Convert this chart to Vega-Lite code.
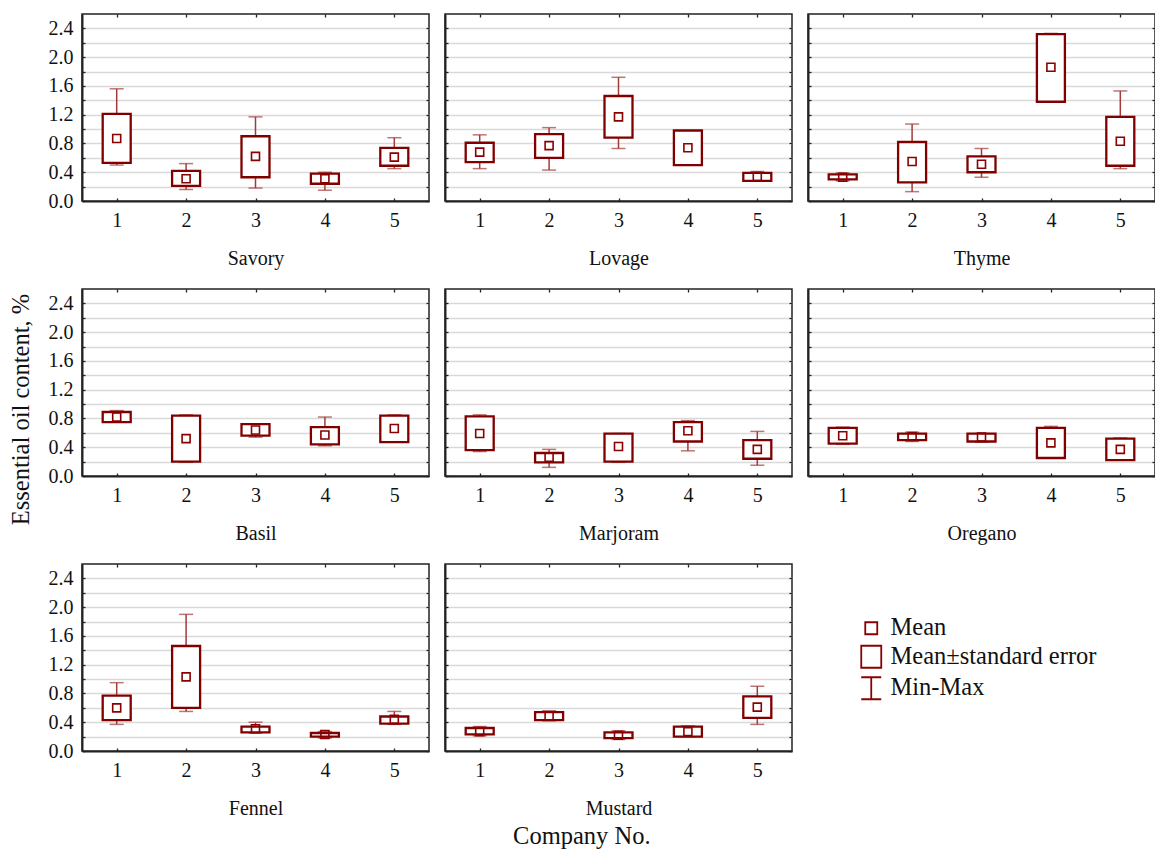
{
  "$schema": "https://vega.github.io/schema/vega-lite/v6.json",
  "padding": {"left": 7, "top": 12, "right": 0, "bottom": 2},
  "background": "#ffffff",
  "datasets": {
    "box": [
      {"herb": "Savory", "company": 1, "min": 0.50, "selo": 0.53, "mean": 0.87, "sehi": 1.21, "max": 1.56},
      {"herb": "Savory", "company": 2, "min": 0.16, "selo": 0.21, "mean": 0.31, "sehi": 0.42, "max": 0.52},
      {"herb": "Savory", "company": 3, "min": 0.18, "selo": 0.33, "mean": 0.62, "sehi": 0.90, "max": 1.17},
      {"herb": "Savory", "company": 4, "min": 0.15, "selo": 0.24, "mean": 0.31, "sehi": 0.38, "max": 0.40},
      {"herb": "Savory", "company": 5, "min": 0.45, "selo": 0.49, "mean": 0.61, "sehi": 0.74, "max": 0.88},
      {"herb": "Lovage", "company": 1, "min": 0.45, "selo": 0.54, "mean": 0.68, "sehi": 0.81, "max": 0.92},
      {"herb": "Lovage", "company": 2, "min": 0.43, "selo": 0.60, "mean": 0.77, "sehi": 0.93, "max": 1.02},
      {"herb": "Lovage", "company": 3, "min": 0.73, "selo": 0.88, "mean": 1.17, "sehi": 1.46, "max": 1.72},
      {"herb": "Lovage", "company": 4, "min": 0.51, "selo": 0.50, "mean": 0.74, "sehi": 0.98, "max": 0.97},
      {"herb": "Lovage", "company": 5, "min": 0.28, "selo": 0.28, "mean": 0.34, "sehi": 0.39, "max": 0.41},
      {"herb": "Thyme", "company": 1, "min": 0.28, "selo": 0.30, "mean": 0.33, "sehi": 0.37, "max": 0.39},
      {"herb": "Thyme", "company": 2, "min": 0.13, "selo": 0.26, "mean": 0.55, "sehi": 0.82, "max": 1.07},
      {"herb": "Thyme", "company": 3, "min": 0.33, "selo": 0.40, "mean": 0.51, "sehi": 0.62, "max": 0.73},
      {"herb": "Thyme", "company": 4, "min": 1.38, "selo": 1.38, "mean": 1.86, "sehi": 2.32, "max": 2.33},
      {"herb": "Thyme", "company": 5, "min": 0.45, "selo": 0.49, "mean": 0.83, "sehi": 1.17, "max": 1.53},
      {"herb": "Basil", "company": 1, "min": 0.75, "selo": 0.75, "mean": 0.82, "sehi": 0.89, "max": 0.91},
      {"herb": "Basil", "company": 2, "min": 0.19, "selo": 0.20, "mean": 0.52, "sehi": 0.84, "max": 0.85},
      {"herb": "Basil", "company": 3, "min": 0.54, "selo": 0.56, "mean": 0.64, "sehi": 0.72, "max": 0.72},
      {"herb": "Basil", "company": 4, "min": 0.42, "selo": 0.44, "mean": 0.57, "sehi": 0.68, "max": 0.82},
      {"herb": "Basil", "company": 5, "min": 0.47, "selo": 0.47, "mean": 0.66, "sehi": 0.84, "max": 0.85},
      {"herb": "Marjoram", "company": 1, "min": 0.34, "selo": 0.36, "mean": 0.59, "sehi": 0.83, "max": 0.85},
      {"herb": "Marjoram", "company": 2, "min": 0.12, "selo": 0.19, "mean": 0.26, "sehi": 0.32, "max": 0.37},
      {"herb": "Marjoram", "company": 3, "min": 0.19, "selo": 0.20, "mean": 0.41, "sehi": 0.59, "max": 0.59},
      {"herb": "Marjoram", "company": 4, "min": 0.35, "selo": 0.48, "mean": 0.63, "sehi": 0.75, "max": 0.77},
      {"herb": "Marjoram", "company": 5, "min": 0.15, "selo": 0.24, "mean": 0.37, "sehi": 0.50, "max": 0.62},
      {"herb": "Oregano", "company": 1, "min": 0.44, "selo": 0.45, "mean": 0.56, "sehi": 0.67, "max": 0.68},
      {"herb": "Oregano", "company": 2, "min": 0.48, "selo": 0.50, "mean": 0.55, "sehi": 0.59, "max": 0.61},
      {"herb": "Oregano", "company": 3, "min": 0.47, "selo": 0.48, "mean": 0.54, "sehi": 0.59, "max": 0.59},
      {"herb": "Oregano", "company": 4, "min": 0.25, "selo": 0.25, "mean": 0.46, "sehi": 0.67, "max": 0.69},
      {"herb": "Oregano", "company": 5, "min": 0.22, "selo": 0.22, "mean": 0.37, "sehi": 0.52, "max": 0.53},
      {"herb": "Fennel", "company": 1, "min": 0.37, "selo": 0.43, "mean": 0.60, "sehi": 0.77, "max": 0.95},
      {"herb": "Fennel", "company": 2, "min": 0.55, "selo": 0.60, "mean": 1.03, "sehi": 1.46, "max": 1.90},
      {"herb": "Fennel", "company": 3, "min": 0.25, "selo": 0.26, "mean": 0.31, "sehi": 0.34, "max": 0.40},
      {"herb": "Fennel", "company": 4, "min": 0.18, "selo": 0.20, "mean": 0.23, "sehi": 0.25, "max": 0.27},
      {"herb": "Fennel", "company": 5, "min": 0.37, "selo": 0.38, "mean": 0.44, "sehi": 0.48, "max": 0.55},
      {"herb": "Mustard", "company": 1, "min": 0.21, "selo": 0.23, "mean": 0.27, "sehi": 0.32, "max": 0.34},
      {"herb": "Mustard", "company": 2, "min": 0.42, "selo": 0.43, "mean": 0.49, "sehi": 0.54, "max": 0.56},
      {"herb": "Mustard", "company": 3, "min": 0.16, "selo": 0.18, "mean": 0.22, "sehi": 0.26, "max": 0.28},
      {"herb": "Mustard", "company": 4, "min": 0.20, "selo": 0.20, "mean": 0.27, "sehi": 0.34, "max": 0.35},
      {"herb": "Mustard", "company": 5, "min": 0.37, "selo": 0.46, "mean": 0.61, "sehi": 0.76, "max": 0.90}
    ],
    "key": [
      {"stat": "Mean"},
      {"stat": "Mean±standard error"},
      {"stat": "Min-Max"}
    ]
  },
  "data": {"name": "box"},
  "title": {"text": "Company No.", "orient": "bottom", "anchor": "middle", "font": "Times New Roman, Liberation Serif, serif", "fontSize": 24.5, "fontWeight": "normal", "color": "#111111", "offset": 6},
  "columns": 3,
  "spacing": {"row": 18, "column": 12},
  "concat": [
    {
      "width": 347, "height": 187,
      "transform": [{"filter": "datum.herb === 'Savory'"}],
      "layer": [
        {"mark": {"type": "rule", "color": "#a33a3a", "strokeWidth": 1.5},
         "encoding": {
           "x": {"field": "company", "type": "ordinal", "scale": {"type": "point", "padding": 0.5}, "axis": {"orient": "bottom", "title": "Savory", "labelAngle": 0, "tickSize": -3, "labelPadding": 12, "titlePadding": 18}},
           "y": {"field": "min", "type": "quantitative", "scale": {"domain": [0, 2.6], "nice": false}, "axis": {"orient": "left", "values": [0,0.2,0.4,0.6,0.8,1,1.2,1.4,1.6,1.8,2,2.2,2.4], "labelExpr": "round(datum.value*10)%4==0 ? format(datum.value,'.1f') : ''", "labelOverlap": false, "grid": true, "tickSize": -3, "labelPadding": 12, "title": null}},
           "y2": {"field": "max"}}},
        {"mark": {"type": "tick", "color": "#a33a3a", "thickness": 1.5, "size": 14},
         "encoding": {"x": {"field": "company", "type": "ordinal", "axis": null}, "y": {"field": "max", "type": "quantitative", "axis": null}}},
        {"mark": {"type": "tick", "color": "#a33a3a", "thickness": 1.5, "size": 14},
         "encoding": {"x": {"field": "company", "type": "ordinal", "axis": null}, "y": {"field": "min", "type": "quantitative", "axis": null}}},
        {"mark": {"type": "bar", "size": 28, "fill": "#ffffff", "stroke": "#800000", "strokeWidth": 2.3},
         "encoding": {"x": {"field": "company", "type": "ordinal", "axis": null}, "y": {"field": "selo", "type": "quantitative", "axis": null}, "y2": {"field": "sehi"}}},
        {"mark": {"type": "point", "shape": "square", "filled": false, "size": 64, "color": "#8b0000", "strokeWidth": 1.6, "opacity": 1},
         "encoding": {
           "x": {"field": "company", "type": "ordinal", "axis": {"orient": "top", "labels": false, "tickSize": -3, "title": null, "domain": false, "grid": false}},
           "y": {"field": "mean", "type": "quantitative", "axis": {"orient": "right", "values": [0,0.2,0.4,0.6,0.8,1,1.2,1.4,1.6,1.8,2,2.2,2.4], "labels": false, "tickSize": -3, "title": null, "domain": false, "grid": false}}}}
      ],
      "resolve": {"axis": {"x": "independent", "y": "independent"}}
    },
    {
      "width": 347, "height": 187,
      "transform": [{"filter": "datum.herb === 'Lovage'"}],
      "layer": [
        {"mark": {"type": "rule", "color": "#a33a3a", "strokeWidth": 1.5},
         "encoding": {
           "x": {"field": "company", "type": "ordinal", "scale": {"type": "point", "padding": 0.5}, "axis": {"orient": "bottom", "title": "Lovage", "labelAngle": 0, "tickSize": -3, "labelPadding": 12, "titlePadding": 18}},
           "y": {"field": "min", "type": "quantitative", "scale": {"domain": [0, 2.6], "nice": false}, "axis": {"orient": "left", "values": [0,0.2,0.4,0.6,0.8,1,1.2,1.4,1.6,1.8,2,2.2,2.4], "labels": false, "grid": true, "tickSize": -3, "title": null}},
           "y2": {"field": "max"}}},
        {"mark": {"type": "tick", "color": "#a33a3a", "thickness": 1.5, "size": 14},
         "encoding": {"x": {"field": "company", "type": "ordinal", "axis": null}, "y": {"field": "max", "type": "quantitative", "axis": null}}},
        {"mark": {"type": "tick", "color": "#a33a3a", "thickness": 1.5, "size": 14},
         "encoding": {"x": {"field": "company", "type": "ordinal", "axis": null}, "y": {"field": "min", "type": "quantitative", "axis": null}}},
        {"mark": {"type": "bar", "size": 28, "fill": "#ffffff", "stroke": "#800000", "strokeWidth": 2.3},
         "encoding": {"x": {"field": "company", "type": "ordinal", "axis": null}, "y": {"field": "selo", "type": "quantitative", "axis": null}, "y2": {"field": "sehi"}}},
        {"mark": {"type": "point", "shape": "square", "filled": false, "size": 64, "color": "#8b0000", "strokeWidth": 1.6, "opacity": 1},
         "encoding": {
           "x": {"field": "company", "type": "ordinal", "axis": {"orient": "top", "labels": false, "tickSize": -3, "title": null, "domain": false, "grid": false}},
           "y": {"field": "mean", "type": "quantitative", "axis": {"orient": "right", "values": [0,0.2,0.4,0.6,0.8,1,1.2,1.4,1.6,1.8,2,2.2,2.4], "labels": false, "tickSize": -3, "title": null, "domain": false, "grid": false}}}}
      ],
      "resolve": {"axis": {"x": "independent", "y": "independent"}}
    },
    {
      "width": 347, "height": 187,
      "transform": [{"filter": "datum.herb === 'Thyme'"}],
      "layer": [
        {"mark": {"type": "rule", "color": "#a33a3a", "strokeWidth": 1.5},
         "encoding": {
           "x": {"field": "company", "type": "ordinal", "scale": {"type": "point", "padding": 0.5}, "axis": {"orient": "bottom", "title": "Thyme", "labelAngle": 0, "tickSize": -3, "labelPadding": 12, "titlePadding": 18}},
           "y": {"field": "min", "type": "quantitative", "scale": {"domain": [0, 2.6], "nice": false}, "axis": {"orient": "left", "values": [0,0.2,0.4,0.6,0.8,1,1.2,1.4,1.6,1.8,2,2.2,2.4], "labels": false, "grid": true, "tickSize": -3, "title": null}},
           "y2": {"field": "max"}}},
        {"mark": {"type": "tick", "color": "#a33a3a", "thickness": 1.5, "size": 14},
         "encoding": {"x": {"field": "company", "type": "ordinal", "axis": null}, "y": {"field": "max", "type": "quantitative", "axis": null}}},
        {"mark": {"type": "tick", "color": "#a33a3a", "thickness": 1.5, "size": 14},
         "encoding": {"x": {"field": "company", "type": "ordinal", "axis": null}, "y": {"field": "min", "type": "quantitative", "axis": null}}},
        {"mark": {"type": "bar", "size": 28, "fill": "#ffffff", "stroke": "#800000", "strokeWidth": 2.3},
         "encoding": {"x": {"field": "company", "type": "ordinal", "axis": null}, "y": {"field": "selo", "type": "quantitative", "axis": null}, "y2": {"field": "sehi"}}},
        {"mark": {"type": "point", "shape": "square", "filled": false, "size": 64, "color": "#8b0000", "strokeWidth": 1.6, "opacity": 1},
         "encoding": {
           "x": {"field": "company", "type": "ordinal", "axis": {"orient": "top", "labels": false, "tickSize": -3, "title": null, "domain": false, "grid": false}},
           "y": {"field": "mean", "type": "quantitative", "axis": {"orient": "right", "values": [0,0.2,0.4,0.6,0.8,1,1.2,1.4,1.6,1.8,2,2.2,2.4], "labels": false, "tickSize": -3, "title": null, "domain": false, "grid": false}}}}
      ],
      "resolve": {"axis": {"x": "independent", "y": "independent"}}
    },
    {
      "width": 347, "height": 187,
      "transform": [{"filter": "datum.herb === 'Basil'"}],
      "layer": [
        {"mark": {"type": "rule", "color": "#a33a3a", "strokeWidth": 1.5},
         "encoding": {
           "x": {"field": "company", "type": "ordinal", "scale": {"type": "point", "padding": 0.5}, "axis": {"orient": "bottom", "title": "Basil", "labelAngle": 0, "tickSize": -3, "labelPadding": 12, "titlePadding": 18}},
           "y": {"field": "min", "type": "quantitative", "scale": {"domain": [0, 2.6], "nice": false}, "axis": {"orient": "left", "values": [0,0.2,0.4,0.6,0.8,1,1.2,1.4,1.6,1.8,2,2.2,2.4], "labelExpr": "round(datum.value*10)%4==0 ? format(datum.value,'.1f') : ''", "labelOverlap": false, "grid": true, "tickSize": -3, "labelPadding": 12, "title": "Essential oil content, %", "titleFontSize": 24.5, "titlePadding": 15, "titleY": 120}},
           "y2": {"field": "max"}}},
        {"mark": {"type": "tick", "color": "#a33a3a", "thickness": 1.5, "size": 14},
         "encoding": {"x": {"field": "company", "type": "ordinal", "axis": null}, "y": {"field": "max", "type": "quantitative", "axis": null}}},
        {"mark": {"type": "tick", "color": "#a33a3a", "thickness": 1.5, "size": 14},
         "encoding": {"x": {"field": "company", "type": "ordinal", "axis": null}, "y": {"field": "min", "type": "quantitative", "axis": null}}},
        {"mark": {"type": "bar", "size": 28, "fill": "#ffffff", "stroke": "#800000", "strokeWidth": 2.3},
         "encoding": {"x": {"field": "company", "type": "ordinal", "axis": null}, "y": {"field": "selo", "type": "quantitative", "axis": null}, "y2": {"field": "sehi"}}},
        {"mark": {"type": "point", "shape": "square", "filled": false, "size": 64, "color": "#8b0000", "strokeWidth": 1.6, "opacity": 1},
         "encoding": {
           "x": {"field": "company", "type": "ordinal", "axis": {"orient": "top", "labels": false, "tickSize": -3, "title": null, "domain": false, "grid": false}},
           "y": {"field": "mean", "type": "quantitative", "axis": {"orient": "right", "values": [0,0.2,0.4,0.6,0.8,1,1.2,1.4,1.6,1.8,2,2.2,2.4], "labels": false, "tickSize": -3, "title": null, "domain": false, "grid": false}}}}
      ],
      "resolve": {"axis": {"x": "independent", "y": "independent"}}
    },
    {
      "width": 347, "height": 187,
      "transform": [{"filter": "datum.herb === 'Marjoram'"}],
      "layer": [
        {"mark": {"type": "rule", "color": "#a33a3a", "strokeWidth": 1.5},
         "encoding": {
           "x": {"field": "company", "type": "ordinal", "scale": {"type": "point", "padding": 0.5}, "axis": {"orient": "bottom", "title": "Marjoram", "labelAngle": 0, "tickSize": -3, "labelPadding": 12, "titlePadding": 18}},
           "y": {"field": "min", "type": "quantitative", "scale": {"domain": [0, 2.6], "nice": false}, "axis": {"orient": "left", "values": [0,0.2,0.4,0.6,0.8,1,1.2,1.4,1.6,1.8,2,2.2,2.4], "labels": false, "grid": true, "tickSize": -3, "title": null}},
           "y2": {"field": "max"}}},
        {"mark": {"type": "tick", "color": "#a33a3a", "thickness": 1.5, "size": 14},
         "encoding": {"x": {"field": "company", "type": "ordinal", "axis": null}, "y": {"field": "max", "type": "quantitative", "axis": null}}},
        {"mark": {"type": "tick", "color": "#a33a3a", "thickness": 1.5, "size": 14},
         "encoding": {"x": {"field": "company", "type": "ordinal", "axis": null}, "y": {"field": "min", "type": "quantitative", "axis": null}}},
        {"mark": {"type": "bar", "size": 28, "fill": "#ffffff", "stroke": "#800000", "strokeWidth": 2.3},
         "encoding": {"x": {"field": "company", "type": "ordinal", "axis": null}, "y": {"field": "selo", "type": "quantitative", "axis": null}, "y2": {"field": "sehi"}}},
        {"mark": {"type": "point", "shape": "square", "filled": false, "size": 64, "color": "#8b0000", "strokeWidth": 1.6, "opacity": 1},
         "encoding": {
           "x": {"field": "company", "type": "ordinal", "axis": {"orient": "top", "labels": false, "tickSize": -3, "title": null, "domain": false, "grid": false}},
           "y": {"field": "mean", "type": "quantitative", "axis": {"orient": "right", "values": [0,0.2,0.4,0.6,0.8,1,1.2,1.4,1.6,1.8,2,2.2,2.4], "labels": false, "tickSize": -3, "title": null, "domain": false, "grid": false}}}}
      ],
      "resolve": {"axis": {"x": "independent", "y": "independent"}}
    },
    {
      "width": 347, "height": 187,
      "transform": [{"filter": "datum.herb === 'Oregano'"}],
      "layer": [
        {"mark": {"type": "rule", "color": "#a33a3a", "strokeWidth": 1.5},
         "encoding": {
           "x": {"field": "company", "type": "ordinal", "scale": {"type": "point", "padding": 0.5}, "axis": {"orient": "bottom", "title": "Oregano", "labelAngle": 0, "tickSize": -3, "labelPadding": 12, "titlePadding": 18}},
           "y": {"field": "min", "type": "quantitative", "scale": {"domain": [0, 2.6], "nice": false}, "axis": {"orient": "left", "values": [0,0.2,0.4,0.6,0.8,1,1.2,1.4,1.6,1.8,2,2.2,2.4], "labels": false, "grid": true, "tickSize": -3, "title": null}},
           "y2": {"field": "max"}}},
        {"mark": {"type": "tick", "color": "#a33a3a", "thickness": 1.5, "size": 14},
         "encoding": {"x": {"field": "company", "type": "ordinal", "axis": null}, "y": {"field": "max", "type": "quantitative", "axis": null}}},
        {"mark": {"type": "tick", "color": "#a33a3a", "thickness": 1.5, "size": 14},
         "encoding": {"x": {"field": "company", "type": "ordinal", "axis": null}, "y": {"field": "min", "type": "quantitative", "axis": null}}},
        {"mark": {"type": "bar", "size": 28, "fill": "#ffffff", "stroke": "#800000", "strokeWidth": 2.3},
         "encoding": {"x": {"field": "company", "type": "ordinal", "axis": null}, "y": {"field": "selo", "type": "quantitative", "axis": null}, "y2": {"field": "sehi"}}},
        {"mark": {"type": "point", "shape": "square", "filled": false, "size": 64, "color": "#8b0000", "strokeWidth": 1.6, "opacity": 1},
         "encoding": {
           "x": {"field": "company", "type": "ordinal", "axis": {"orient": "top", "labels": false, "tickSize": -3, "title": null, "domain": false, "grid": false}},
           "y": {"field": "mean", "type": "quantitative", "axis": {"orient": "right", "values": [0,0.2,0.4,0.6,0.8,1,1.2,1.4,1.6,1.8,2,2.2,2.4], "labels": false, "tickSize": -3, "title": null, "domain": false, "grid": false}}}}
      ],
      "resolve": {"axis": {"x": "independent", "y": "independent"}}
    },
    {
      "width": 347, "height": 187,
      "transform": [{"filter": "datum.herb === 'Fennel'"}],
      "layer": [
        {"mark": {"type": "rule", "color": "#a33a3a", "strokeWidth": 1.5},
         "encoding": {
           "x": {"field": "company", "type": "ordinal", "scale": {"type": "point", "padding": 0.5}, "axis": {"orient": "bottom", "title": "Fennel", "labelAngle": 0, "tickSize": -3, "labelPadding": 12, "titlePadding": 18}},
           "y": {"field": "min", "type": "quantitative", "scale": {"domain": [0, 2.6], "nice": false}, "axis": {"orient": "left", "values": [0,0.2,0.4,0.6,0.8,1,1.2,1.4,1.6,1.8,2,2.2,2.4], "labelExpr": "round(datum.value*10)%4==0 ? format(datum.value,'.1f') : ''", "labelOverlap": false, "grid": true, "tickSize": -3, "labelPadding": 12, "title": null}},
           "y2": {"field": "max"}}},
        {"mark": {"type": "tick", "color": "#a33a3a", "thickness": 1.5, "size": 14},
         "encoding": {"x": {"field": "company", "type": "ordinal", "axis": null}, "y": {"field": "max", "type": "quantitative", "axis": null}}},
        {"mark": {"type": "tick", "color": "#a33a3a", "thickness": 1.5, "size": 14},
         "encoding": {"x": {"field": "company", "type": "ordinal", "axis": null}, "y": {"field": "min", "type": "quantitative", "axis": null}}},
        {"mark": {"type": "bar", "size": 28, "fill": "#ffffff", "stroke": "#800000", "strokeWidth": 2.3},
         "encoding": {"x": {"field": "company", "type": "ordinal", "axis": null}, "y": {"field": "selo", "type": "quantitative", "axis": null}, "y2": {"field": "sehi"}}},
        {"mark": {"type": "point", "shape": "square", "filled": false, "size": 64, "color": "#8b0000", "strokeWidth": 1.6, "opacity": 1},
         "encoding": {
           "x": {"field": "company", "type": "ordinal", "axis": {"orient": "top", "labels": false, "tickSize": -3, "title": null, "domain": false, "grid": false}},
           "y": {"field": "mean", "type": "quantitative", "axis": {"orient": "right", "values": [0,0.2,0.4,0.6,0.8,1,1.2,1.4,1.6,1.8,2,2.2,2.4], "labels": false, "tickSize": -3, "title": null, "domain": false, "grid": false}}}}
      ],
      "resolve": {"axis": {"x": "independent", "y": "independent"}}
    },
    {
      "width": 347, "height": 187,
      "transform": [{"filter": "datum.herb === 'Mustard'"}],
      "layer": [
        {"mark": {"type": "rule", "color": "#a33a3a", "strokeWidth": 1.5},
         "encoding": {
           "x": {"field": "company", "type": "ordinal", "scale": {"type": "point", "padding": 0.5}, "axis": {"orient": "bottom", "title": "Mustard", "labelAngle": 0, "tickSize": -3, "labelPadding": 12, "titlePadding": 18}},
           "y": {"field": "min", "type": "quantitative", "scale": {"domain": [0, 2.6], "nice": false}, "axis": {"orient": "left", "values": [0,0.2,0.4,0.6,0.8,1,1.2,1.4,1.6,1.8,2,2.2,2.4], "labels": false, "grid": true, "tickSize": -3, "title": null}},
           "y2": {"field": "max"}}},
        {"mark": {"type": "tick", "color": "#a33a3a", "thickness": 1.5, "size": 14},
         "encoding": {"x": {"field": "company", "type": "ordinal", "axis": null}, "y": {"field": "max", "type": "quantitative", "axis": null}}},
        {"mark": {"type": "tick", "color": "#a33a3a", "thickness": 1.5, "size": 14},
         "encoding": {"x": {"field": "company", "type": "ordinal", "axis": null}, "y": {"field": "min", "type": "quantitative", "axis": null}}},
        {"mark": {"type": "bar", "size": 28, "fill": "#ffffff", "stroke": "#800000", "strokeWidth": 2.3},
         "encoding": {"x": {"field": "company", "type": "ordinal", "axis": null}, "y": {"field": "selo", "type": "quantitative", "axis": null}, "y2": {"field": "sehi"}}},
        {"mark": {"type": "point", "shape": "square", "filled": false, "size": 64, "color": "#8b0000", "strokeWidth": 1.6, "opacity": 1},
         "encoding": {
           "x": {"field": "company", "type": "ordinal", "axis": {"orient": "top", "labels": false, "tickSize": -3, "title": null, "domain": false, "grid": false}},
           "y": {"field": "mean", "type": "quantitative", "axis": {"orient": "right", "values": [0,0.2,0.4,0.6,0.8,1,1.2,1.4,1.6,1.8,2,2.2,2.4], "labels": false, "tickSize": -3, "title": null, "domain": false, "grid": false}}}}
      ],
      "resolve": {"axis": {"x": "independent", "y": "independent"}}
    },
    {
      "width": 300, "height": 187,
      "view": {"stroke": null},
      "data": {"name": "key"},
      "mark": {"type": "point", "filled": false, "opacity": 0, "color": "#8b0000"},
      "encoding": {
        "shape": {"field": "stat", "type": "nominal",
          "scale": {"domain": ["Mean", "Mean±standard error", "Min-Max"], "range": ["M-0.6,-0.6H0.6V0.6H-0.6Z", "M-1,-1.1H1V1.1H-1Z", "M0,-1.1V1.1M-1,-1.1H1M-1,1.1H1"]},
          "legend": {"orient": "none", "legendX": 777, "legendY": 602, "title": null, "labelFont": "Times New Roman, Liberation Serif, serif", "labelFontSize": 24.5, "labelColor": "#111111", "symbolSize": 400, "symbolStrokeWidth": 1.8, "symbolStrokeColor": "#8b0000", "symbolOpacity": 1, "rowPadding": 1.5, "labelOffset": 7, "labelLimit": 400}}
      }
    }
  ],
  "config": {
    "font": "Times New Roman, Liberation Serif, serif",
    "view": {"stroke": "#222222", "strokeWidth": 1.5},
    "axis": {"labelFont": "Times New Roman, Liberation Serif, serif", "labelFontSize": 20, "labelColor": "#111111", "titleFont": "Times New Roman, Liberation Serif, serif", "titleFontSize": 20, "titleFontWeight": "normal", "titleColor": "#111111", "tickColor": "#222222", "tickWidth": 1.3, "domainColor": "#222222", "domainWidth": 2, "gridColor": "#d9d9d9", "gridWidth": 1.5}
  }
}
